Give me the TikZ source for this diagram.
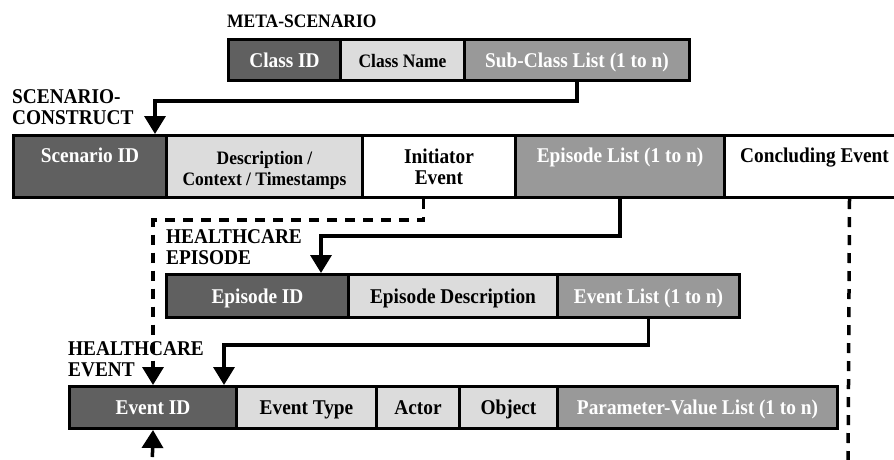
\documentclass[tikz,border=0pt]{standalone}
\usepackage{fontspec}
\setmainfont{Liberation Serif}[FakeStretch=0.92]
\usetikzlibrary{arrows.meta,calc}

\definecolor{cdark}{HTML}{606060}
\definecolor{cmid}{HTML}{999999}
\definecolor{clight}{HTML}{DCDCDC}

\begin{document}
\begin{tikzpicture}[x=1pt,y=-1pt,
  bigtext/.style={font=\fontsize{21}{21}\selectfont\bfseries},
  smalltext/.style={font=\fontsize{19}{21}\selectfont\bfseries},
  cell/.style={draw=black,line width=3pt,anchor=north west,inner sep=0pt,
    text height=14pt,text depth=0pt,bigtext},
  darkcell/.style={cell,fill=cdark,text=white},
  midcell/.style={cell,fill=cmid,text=white},
  lightcell/.style={cell,fill=clight,text=black},
  whitecell/.style={cell,fill=white,text=black},
  celltext/.style={anchor=north,inner sep=0pt,align=center,bigtext},
  heading/.style={anchor=north west,inner sep=0pt,align=left,bigtext},
  tip/.style={-{Triangle[width=21pt,length=18pt]}},
  conn/.style={line width=3.5pt,tip},
  dconn/.style={line width=3.5pt,dash pattern=on 10pt off 8pt,tip},
  dline/.style={line width=3.5pt,dash pattern=on 10pt off 8pt}]

\useasboundingbox (0,0) rectangle (894,459);
\clip (0,0) rectangle (894,459);

% ---- meta-scenario record ----
\node[heading,font=\fontsize{19}{21}\selectfont\bfseries] (hmeta) at (227,14.5) {META-SCENARIO};
\node[darkcell,minimum width=112pt,minimum height=41pt] (classid) at (227,38) {Class ID};
\node[lightcell,smalltext,minimum width=124pt,minimum height=41pt] (classname) at (339,38) {Class Name};
\node[midcell,minimum width=225pt,minimum height=41pt] (subclass) at (463,38) {Sub-Class List (1 to n)};

% ---- scenario construct record ----
\node[heading] (hscen) at (12,89) {SCENARIO-\\CONSTRUCT};
\node[darkcell,minimum width=153pt,minimum height=62pt] (sid) at (12,134) {};
\node[lightcell,minimum width=196pt,minimum height=62pt] (desc) at (165,134) {};
\node[whitecell,minimum width=153pt,minimum height=62pt] (init) at (361,134) {};
\node[midcell,minimum width=209pt,minimum height=62pt] (eplist) at (514,134) {};
\node[whitecell,minimum width=180pt,minimum height=62pt] (concl) at (723,134) {};

\node[celltext,text=white] (tsid) at ($(sid.north)+(0,14)$) {Scenario ID};
\node[celltext,smalltext] (tdesc) at ($(desc.north)+(0,17)$) {Description /\\Context / Timestamps};
\node[celltext] (tinit) at ($(init.north)+(0,15)$) {Initiator\\Event};
\node[celltext,text=white] (teplist) at ($(eplist.north)+(0,14)$) {Episode List (1 to n)};
\node[celltext] (tconcl) at ($(concl.north)+(0,14)$) {Concluding Event};

% ---- healthcare episode record ----
\node[heading] (hepi) at (166,229) {HEALTHCARE\\EPISODE};
\node[darkcell,minimum width=182pt,minimum height=43pt] (epid) at (165,273) {Episode ID};
\node[lightcell,minimum width=209pt,minimum height=43pt] (epdesc) at (347,273) {Episode Description};
\node[midcell,minimum width=182pt,minimum height=43pt] (evlist) at (556,273) {Event List (1 to n)};

% ---- healthcare event record ----
\node[heading] (hev) at (68,341) {HEALTHCARE\\EVENT};
\node[darkcell,minimum width=167pt,minimum height=42pt] (evid) at (68,385) {Event ID};
\node[lightcell,minimum width=140pt,minimum height=42pt] (evtype) at (235,385) {Event Type};
\node[lightcell,minimum width=83pt,minimum height=42pt] (actor) at (375,385) {Actor};
\node[lightcell,minimum width=98pt,minimum height=42pt] (object) at (458,385) {Object};
\node[midcell,minimum width=280pt,minimum height=42pt] (pvlist) at (556,385) {Parameter-Value List (1 to n)};

% free ends of the open dashed links
\coordinate (bottomin) at (152,475);
\coordinate (bottomout) at (848,475);

% ---- links between records ----
\draw[conn] (subclass.south) -- ++(0,19) -| ([xshift=-13pt]sid.north east);
\draw[conn] (eplist.south) -- ++(0,37) -| ([xshift=-29pt]epid.north east);
\draw[conn] (evlist.south) -- ++(0,26) -| ([xshift=-14pt]evid.north east);
\draw[dconn] ([xshift=-15.5pt]init.south) -- ++(0,21) -| (evid.north);
\draw[dline] ([xshift=35pt]concl.south) -- (bottomout);
\draw[dconn] (bottomin) -- (evid.south);

\end{tikzpicture}
\end{document}
